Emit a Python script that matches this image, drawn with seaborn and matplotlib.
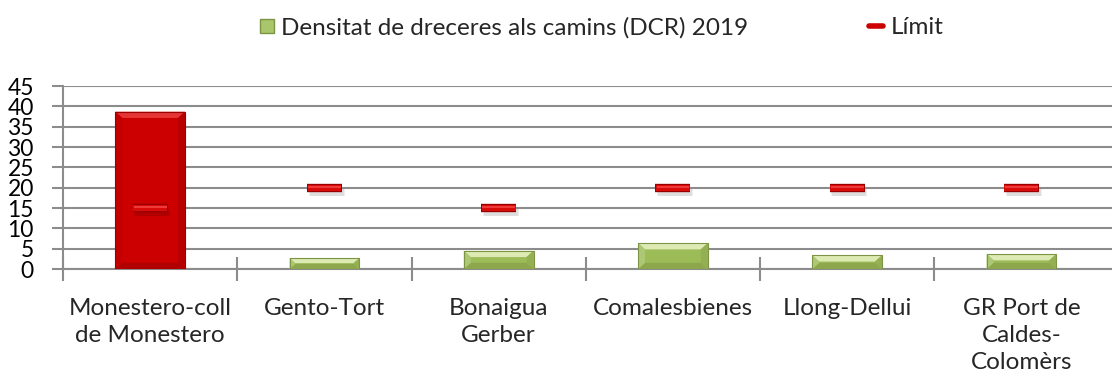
import numpy as np
import pandas as pd
import matplotlib
matplotlib.use("Agg")
import matplotlib.pyplot as plt
from matplotlib.patches import Polygon
from matplotlib.lines import Line2D
import seaborn as sns

# Shortcut density per path (DCR) in 2019 and the allowed limit for each path
paths = ["Monestero-coll\nde Monestero", "Gento-Tort", "Bonaigua\nGerber",
         "Comalesbienes", "Llong-Dellui", "GR Port de\nCaldes-\nColomèrs"]
dcr_2019 = [38.7, 2.7, 4.5, 6.4, 3.4, 3.7]
limits = [15, 20, 15, 20, 20, 20]
yticks = [0, 5, 10, 15, 20, 25, 30, 35, 40, 45]

series_label = "Densitat de dreceres als camins (DCR) 2019"
limit_label = "Límit"

RED = "#CC0000"
GREEN = "#9CBC58"

sns.set_theme(style="white")
plt.rcParams["font.family"] = ["Lato", "DejaVu Sans"]

df = pd.DataFrame({"path": paths, "dcr": dcr_2019, "limit": limits})
df["status"] = np.where(df["dcr"] > df["limit"], "over", "ok")

fig = plt.figure(figsize=(11.12, 3.79), dpi=100)
ax = fig.add_axes([0.0567, 0.29, 0.9433, 0.483])

sns.barplot(data=df, x="path", y="dcr", hue="status",
            palette={"over": RED, "ok": GREEN}, width=0.4, saturation=1,
            dodge=False, legend=False, ax=ax, zorder=3,
            edgecolor="none", linewidth=0)

# Bevelled look for each bar, built from the bar geometry in pixel space
to_px = ax.transData
to_data = ax.transData.inverted()
bevel_px = 7
for p in list(ax.patches):
    x0, y0 = p.get_x(), p.get_y()
    w, h = p.get_width(), p.get_height()
    if h <= 0:
        continue
    (px0, py0) = to_px.transform((x0, y0))
    (px1, py1) = to_px.transform((x0 + w, y0 + h))
    b = min(bevel_px, (py1 - py0) / 2.2)
    base = p.get_facecolor()
    is_red = base[0] > 0.6 and base[1] < 0.2
    if is_red:
        top_c, left_c, right_c, bot_c, edge_c = "#E63535", "#C20000", "#B80000", "#B00000", "#9A0000"
    else:
        top_c, left_c, right_c, bot_c, edge_c = "#DDEAB4", "#ADC874", "#94B052", "#8DA84C", "#7C9444"

    def poly(pts, c):
        data_pts = to_data.transform(pts)
        ax.add_patch(Polygon(data_pts, closed=True, facecolor=c,
                             edgecolor="none", zorder=4))
    poly([(px0, py1), (px1, py1), (px1 - b, py1 - b), (px0 + b, py1 - b)], top_c)
    poly([(px0, py0), (px1, py0), (px1 - b, py0 + b), (px0 + b, py0 + b)], bot_c)
    poly([(px0, py0), (px0 + b, py0 + b), (px0 + b, py1 - b), (px0, py1)], left_c)
    poly([(px1, py0), (px1 - b, py0 + b), (px1 - b, py1 - b), (px1, py1)], right_c)
    ax.add_patch(plt.Rectangle((x0, y0), w, h, facecolor="none",
                               edgecolor=edge_c, linewidth=0.8, zorder=5))

# Limit markers: short thick dashes centred on each category
xs = np.arange(len(paths))
half = 0.1
lim = np.array(limits, dtype=float)
ax.hlines(lim - 1.0, xs - half + 0.01, xs + half + 0.01,
          colors="black", linewidth=5, alpha=0.13, zorder=5)
ax.hlines(lim, xs - half, xs + half, colors="#960000",
          linewidth=6, zorder=6, capstyle="butt")
ax.hlines(lim, xs - half + 0.003, xs + half - 0.003, colors="#D80A0A",
          linewidth=4.4, zorder=7, capstyle="butt")
ax.hlines(lim + 0.3, xs - half + 0.006, xs + half - 0.006,
          colors="#F03C3C", linewidth=1.4, zorder=8)

ax.set_ylim(0, 45)
ax.set_xlim(-0.5, len(paths) - 0.48)
ax.set_yticks(yticks)
ax.yaxis.grid(True, color="#8C8C8C", linewidth=1.5, zorder=0)
ax.set_axisbelow(True)
ax.set_xlabel("")
ax.set_ylabel("")

for side in ["top", "right"]:
    ax.spines[side].set_visible(False)
for side in ["left", "bottom"]:
    ax.spines[side].set_color("#8C8C8C")
    ax.spines[side].set_linewidth(1.5)

ax.tick_params(axis="y", which="major", direction="out", length=8,
               width=1.5, color="#8C8C8C", labelsize=16.5, pad=13, left=True)
ax.set_xticks(xs)
ax.set_xticklabels(paths, fontsize=17.5, linespacing=1.35, va="top")
ax.tick_params(axis="x", which="major", length=0, pad=21)
ax.set_xticks(np.arange(len(paths)) - 0.5, minor=True)
ax.tick_params(axis="x", which="minor", direction="inout", length=17,
               width=1.5, color="#8C8C8C", bottom=True)
for lbl in ax.get_yticklabels():
    lbl.set_color("black")
    lbl.set_verticalalignment("center_baseline")

handles = [
    Line2D([], [], marker="s", linestyle="none", markersize=10,
           markerfacecolor="#A9C66A", markeredgecolor="#7C9444"),
    Line2D([], [], color="#CC0000", linewidth=4),
]
fig.legend(handles, [series_label, limit_label], loc="upper center",
           bbox_to_anchor=(0.541, 1.014), ncol=2, frameon=False,
           fontsize=17.5, handlelength=0.6, handletextpad=0.3,
           columnspacing=4.95)

fig.savefig("out.png", dpi=100)
